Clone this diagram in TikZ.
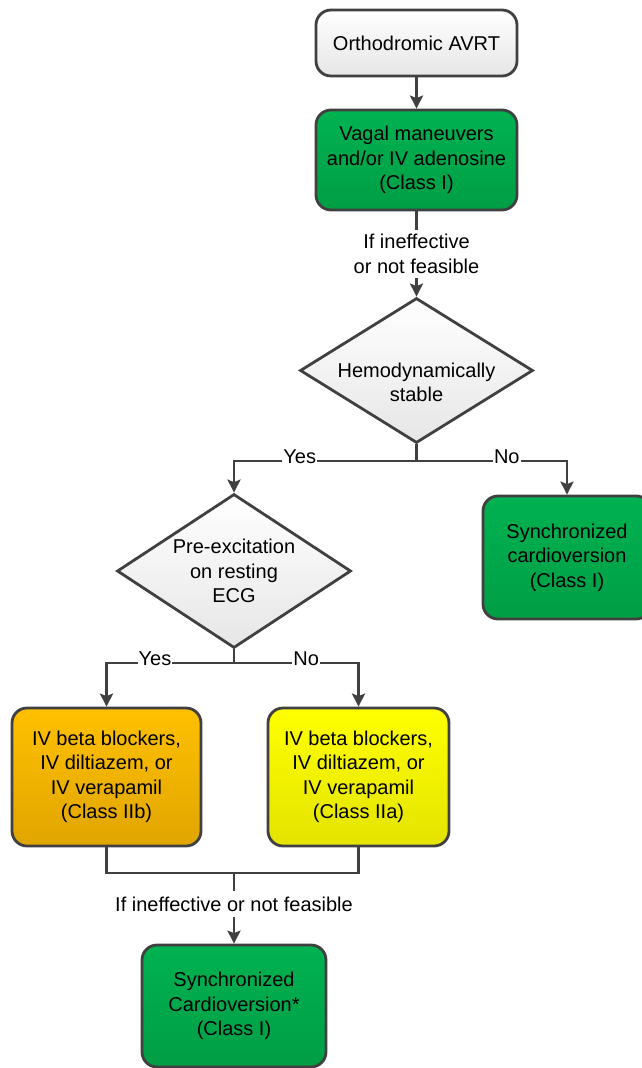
\documentclass[tikz,border=0pt]{standalone}
\usepackage{fontspec}
\setmainfont{Liberation Sans}
\usetikzlibrary{shapes.geometric,arrows.meta}
\definecolor{edgegray}{HTML}{404040}
\definecolor{greentop}{HTML}{00B251}
\definecolor{greenbot}{HTML}{009E45}
\definecolor{orangetop}{HTML}{FFC000}
\definecolor{orangebot}{HTML}{E0A500}
\definecolor{yellowtop}{HTML}{FFFF00}
\definecolor{yellowbot}{HTML}{E3E300}
\definecolor{graybot}{HTML}{E6E6E6}
\begin{document}
\begin{tikzpicture}[x=1pt,y=-1pt,
  font=\fontsize{20}{24.5}\selectfont,
  box/.style={draw=edgegray,line width=2.8pt,rounded corners=15pt,align=center,inner sep=0pt},
  greenbox/.style={box,top color=greentop,bottom color=greenbot},
  orangebox/.style={box,top color=orangetop,bottom color=orangebot},
  yellowbox/.style={box,top color=yellowtop,bottom color=yellowbot},
  whitebox/.style={box,top color=white,bottom color=graybot},
  decision/.style={diamond,draw=edgegray,line width=2.8pt,inner sep=0pt,top color=white,bottom color=graybot},
  conn/.style={draw=edgegray,line width=2.8pt,-{Stealth[length=13pt,width=13pt,inset=2.5pt]}},
  plain/.style={draw=edgegray,line width=2.8pt},
  lbl/.style={fill=white,inner xsep=1pt,inner ysep=3pt,anchor=base,yshift=-2pt},
  note/.style={fill=white,align=center,inner xsep=2pt,inner ysep=4pt}
]
\useasboundingbox (0,0) rectangle (641,1068);

\node[whitebox,minimum width=201pt,minimum height=66pt] (a) at (416.5,43) {Orthodromic AVRT};
\node[greenbox,minimum width=201pt,minimum height=100pt] (b) at (416.5,160) {Vagal maneuvers\\and/or IV adenosine\\(Class I)};
\node[note] (l1) at (416.5,254) {If ineffective\\or not feasible};
\node[decision,minimum width=233pt,minimum height=145pt,
  label={[align=center,yshift=-12pt]center:Hemodynamically\\stable}] (d1) at (416.5,370.5) {};
\node[decision,minimum width=234pt,minimum height=154pt,
  label={[align=center]center:Pre-excitation\\on resting\\ECG}] (d2) at (234,571) {};
\node[greenbox,minimum width=168pt,minimum height=123pt] (r) at (567,557.5) {Synchronized\\cardioversion\\(Class I)};
\node[orangebox,minimum width=189pt,minimum height=138pt] (c) at (106.5,777) {IV beta blockers,\\IV diltiazem, or\\IV verapamil\\(Class IIb)};
\node[yellowbox,minimum width=181pt,minimum height=138pt] (d) at (358.5,777) {IV beta blockers,\\IV diltiazem, or\\IV verapamil\\(Class IIa)};
\node[note,inner ysep=5pt] (l2) at (234,904) {If ineffective or not feasible};
\node[greenbox,minimum width=184pt,minimum height=122pt] (e) at (234,1006) {Synchronized\\Cardioversion*\\(Class I)};

\coordinate (j1) at (416.5,461);
\coordinate (j2) at (234,663);
\coordinate (m) at (234,873);

\draw[conn] (a) -- (b);
\draw[conn] (b) -- (l1) -- (d1);
\draw[plain] (d1.south) -- (j1);
\draw[conn] (j1) -| node[lbl,pos=0.32]{Yes} (d2.north);
\draw[conn] (j1) -| node[lbl,pos=0.3]{No} (r.north);
\draw[plain] (d2.south) -- (j2);
\draw[conn] (j2) -| node[lbl,pos=0.31]{Yes} (c.north);
\draw[conn] (j2) -| node[lbl,pos=0.29]{No} (d.north);
\draw[plain] (c.south) |- (m) -| (d.south);
\draw[conn] (m) -- (l2) -- (e);
\end{tikzpicture}
\end{document}
